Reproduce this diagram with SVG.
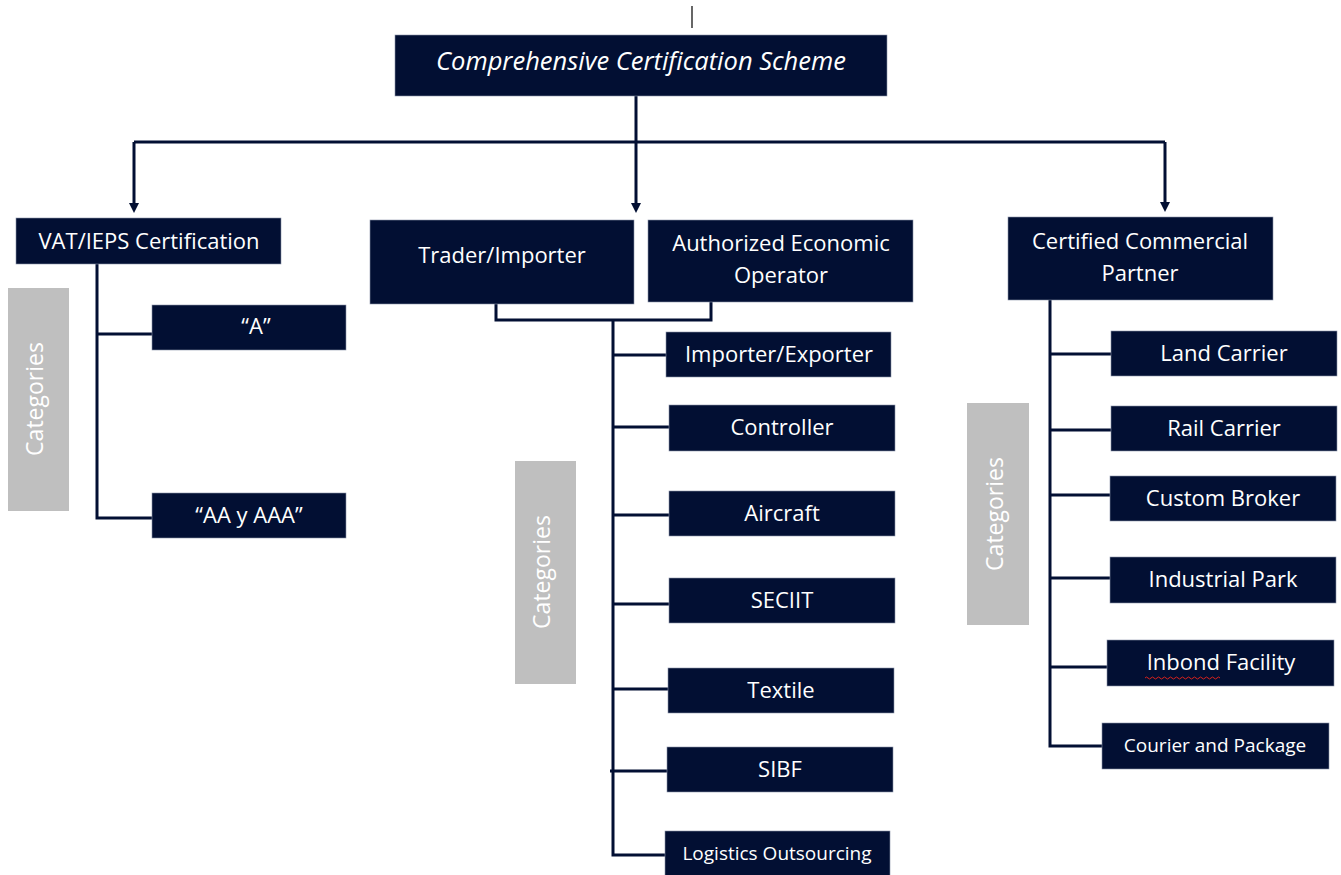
<svg xmlns="http://www.w3.org/2000/svg" width="1341" height="875" viewBox="0 0 1341 875">
<style>
.box{fill:#020f33;stroke:#8a93a8;stroke-width:0.6}
.cat{fill:#bfbfbf}
.t{font-family:"Open Sans","Noto Sans",sans-serif;font-size:22px;font-weight:500;fill:#ffffff;text-anchor:middle}
.sm{font-size:19px}
.ct{font-family:"Open Sans","Noto Sans",sans-serif;font-size:23px;fill:#ffffff;text-anchor:middle}
.ln{fill:none;stroke:#020f33;stroke-width:3}
</style>
<defs>
<marker id="arr" markerWidth="10" markerHeight="10" refX="5" refY="5" orient="auto" markerUnits="userSpaceOnUse">
<path d="M0,0 L10,5 L0,10 z" fill="#020f33"/>
</marker>
</defs>
<rect width="1341" height="875" fill="#ffffff"/>
<line x1="692" y1="6" x2="692" y2="28" stroke="#000" stroke-width="1.2"/>
<g id="connectors">
<path class="ln" d="M636,96 V142"/>
<path class="ln" d="M134,142 H1165"/>
<path class="ln" d="M134,142 V208" marker-end="url(#arr)"/>
<path class="ln" d="M636,142 V208" marker-end="url(#arr)"/>
<path class="ln" d="M1165,142 V207" marker-end="url(#arr)"/>
<path class="ln" d="M97,264 V518 H152"/>
<path class="ln" d="M97,334 H152"/>
<path class="ln" d="M496,304 V320 H711 V302"/>
<path class="ln" d="M613,320 V855 H665"/>
<path class="ln" d="M613,355 H666"/>
<path class="ln" d="M613,427 H669"/>
<path class="ln" d="M613,515 H669"/>
<path class="ln" d="M613,604 H669"/>
<path class="ln" d="M613,689 H668"/>
<path class="ln" d="M610,771 H667"/>
<path class="ln" d="M1050,300 V746 H1102"/>
<path class="ln" d="M1050,354 H1111"/>
<path class="ln" d="M1050,430 H1111"/>
<path class="ln" d="M1050,495 H1110"/>
<path class="ln" d="M1050,578 H1110"/>
<path class="ln" d="M1050,667 H1107"/>
</g>
<g id="root"><rect class="box" x="395" y="35" width="492" height="61"/>
<text class="t" x="641" y="70" style="font-style:italic;font-size:25.5px;font-weight:400">Comprehensive Certification Scheme</text></g>
<g id="vat"><rect class="box" x="16" y="218" width="265" height="46"/>
<text class="t" x="149" y="249">VAT/IEPS Certification</text></g>
<g id="cat-left"><rect class="cat" x="8" y="288" width="61" height="223"/>
<text class="ct" transform="translate(43,399) rotate(-90)">Categories</text></g>
<g id="a"><rect class="box" x="152" y="305" width="194" height="45"/>
<text class="t" x="256" y="334">“A”</text></g>
<g id="aa"><rect class="box" x="152" y="493" width="194" height="45"/>
<text class="t" x="249" y="523">“AA y AAA”</text></g>
<g id="trader"><rect class="box" x="370" y="220" width="264" height="84"/>
<text class="t" x="502" y="263">Trader/Importer</text></g>
<g id="aeo"><rect class="box" x="648" y="220" width="265" height="82"/>
<text class="t" x="781" y="251">Authorized Economic</text>
<text class="t" x="781" y="283">Operator</text></g>
<g id="cat-mid"><rect class="cat" x="515" y="461" width="61" height="223"/>
<text class="ct" transform="translate(550,572) rotate(-90)">Categories</text></g>
<g id="impexp"><rect class="box" x="666" y="332" width="225" height="45"/>
<text class="t" x="779" y="362">Importer/Exporter</text></g>
<g id="controller"><rect class="box" x="669" y="405" width="226" height="46"/>
<text class="t" x="782" y="435">Controller</text></g>
<g id="aircraft"><rect class="box" x="669" y="491" width="226" height="45"/>
<text class="t" x="782" y="521">Aircraft</text></g>
<g id="seciit"><rect class="box" x="669" y="578" width="226" height="45"/>
<text class="t" x="782" y="608">SECIIT</text></g>
<g id="textile"><rect class="box" x="668" y="668" width="226" height="45"/>
<text class="t" x="781" y="698">Textile</text></g>
<g id="sibf"><rect class="box" x="667" y="747" width="226" height="45"/>
<text class="t" x="780" y="777">SIBF</text></g>
<g id="logistics"><rect class="box" x="665" y="831" width="225" height="46"/>
<text class="t sm" x="777" y="860">Logistics Outsourcing</text></g>
<g id="ccp"><rect class="box" x="1008" y="217" width="265" height="83"/>
<text class="t" x="1140" y="249">Certified Commercial</text>
<text class="t" x="1140" y="281">Partner</text></g>
<g id="cat-right"><rect class="cat" x="967" y="403" width="62" height="222"/>
<text class="ct" transform="translate(1003,514) rotate(-90)">Categories</text></g>
<g id="land"><rect class="box" x="1111" y="331" width="226" height="45"/>
<text class="t" x="1224" y="361">Land Carrier</text></g>
<g id="rail"><rect class="box" x="1111" y="406" width="226" height="45"/>
<text class="t" x="1224" y="436">Rail Carrier</text></g>
<g id="broker"><rect class="box" x="1110" y="476" width="226" height="45"/>
<text class="t" x="1223" y="506">Custom Broker</text></g>
<g id="park"><rect class="box" x="1110" y="557" width="226" height="46"/>
<text class="t" x="1223" y="587">Industrial Park</text></g>
<g id="inbond"><rect class="box" x="1107" y="640" width="227" height="46"/>
<text class="t" x="1221" y="670">Inbond Facility</text>
<path d="M1145,678 q1.5,-2 3,0 t3,0 t3,0 t3,0 t3,0 t3,0 t3,0 t3,0 t3,0 t3,0 t3,0 t3,0 t3,0 t3,0 t3,0 t3,0 t3,0 t3,0 t3,0 t3,0 t3,0 t3,0 t3,0 t3,0 t3,0" fill="none" stroke="#d9221c" stroke-width="1"/></g>
<g id="courier"><rect class="box" x="1102" y="723" width="227" height="46"/>
<text class="t sm" x="1215" y="752">Courier and Package</text></g>
</svg>
